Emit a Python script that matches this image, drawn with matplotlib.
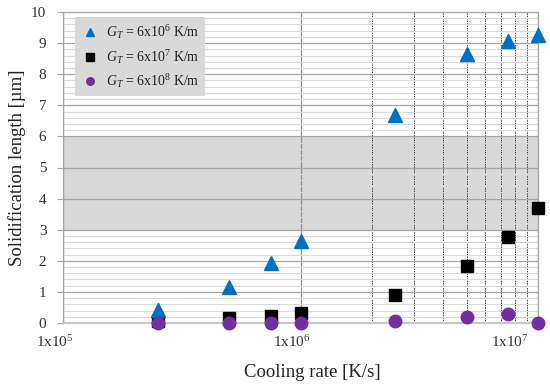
import matplotlib
matplotlib.use('Agg')
import matplotlib.pyplot as plt
import matplotlib.transforms as mtransforms
import numpy as np

plt.rcParams['font.family'] = 'Liberation Serif'
plt.rcParams['mathtext.fontset'] = 'custom'
plt.rcParams['mathtext.rm'] = 'Liberation Serif'
plt.rcParams['mathtext.it'] = 'Liberation Serif:italic'

# data
cooling_rate = [2.5e5, 5e5, 7.5e5, 1e6, 2.5e6, 5e6, 7.5e6, 1e7]
len_g6 = [0.42, 1.17, 1.92, 2.65, 6.69, 8.64, 9.08, 9.26]
len_g7 = [0.08, 0.15, 0.22, 0.31, 0.89, 1.83, 2.78, 3.71]
len_g8 = [0.0, 0.0, 0.0, 0.0, 0.06, 0.18, 0.28, 0.0]
series_labels = [r'$G_T$ = 6x10$^6$ K/m', r'$G_T$ = 6x10$^7$ K/m', r'$G_T$ = 6x10$^8$ K/m']
band_lo, band_hi = 3, 6
x_major = [1e5, 1e6, 1e7]
x_major_labels = [r'1x10$^5$', r'1x10$^6$', r'1x10$^7$']
x_minor = [2e6, 3e6, 4e6, 5e6, 6e6, 7e6, 8e6, 9e6]

fig = plt.figure(figsize=(5.5, 3.86), dpi=100)
fig.patch.set_facecolor('white')
ax = fig.add_axes([63/550, 63/386, 475/550, 311/386])
ax.set_xscale('log')
ax.set_xlim(1e5, 1e7)
ax.set_ylim(0, 10)

# grey band
ax.axhspan(band_lo, band_hi, color='#d9d9d9', zorder=0, lw=0)

# grid
ax.set_yticks(np.arange(0, 11, 1))
ax.set_yticks(np.arange(0, 10.01, 0.2), minor=True)
ax.set_xticks(x_major)
ax.set_xticks(x_minor, minor=True)
ax.set_xticklabels(x_major_labels)
ax.grid(which='major', axis='y', color='#a6a6a6', lw=0.9, zorder=1)
ax.grid(which='minor', axis='y', color='#d9d9d9', lw=0.8, zorder=0.9)
ax.grid(which='major', axis='x', color='#909090', lw=0.9, zorder=1)
ax.grid(which='minor', axis='x', color='#404040', lw=0.7, ls=(0, (1.5, 1)), zorder=1)
ax.set_axisbelow(True)

ax.tick_params(axis='x', which='both', length=0, pad=8, labelsize=11, labelcolor='#333333')
ax.tick_params(axis='y', which='major', length=4, color='#a6a6a6', pad=8,
               labelsize=11, labelcolor='#333333')
ax.tick_params(axis='y', which='minor', length=0)

# shift x tick labels like the original
offsets = [-6, -6, -20]
for lab, dx in zip(ax.get_xticklabels(), offsets):
    lab.set_transform(lab.get_transform() +
                      mtransforms.ScaledTranslation(dx/72, 0, fig.dpi_scale_trans))

for s in ['left', 'top', 'right']:
    ax.spines[s].set_color('#a6a6a6')
    ax.spines[s].set_linewidth(0.9)
ax.spines['bottom'].set_color('#c8c8c8')
ax.spines['bottom'].set_linewidth(1.6)

ax.plot(cooling_rate, len_g6, ls='none', marker='^', ms=10, color='#0070C0',
        label=series_labels[0], clip_on=False, zorder=5)
ax.plot(cooling_rate, len_g7, ls='none', marker='s', ms=8.5, color='black',
        label=series_labels[1], clip_on=False, zorder=4)
ax.plot(cooling_rate, len_g8, ls='none', marker='o', ms=9, color='#7030A0',
        label=series_labels[2], clip_on=False, zorder=6)

leg = ax.legend(loc='upper left', bbox_to_anchor=(12/475, 1 - 5/311), borderaxespad=0,
                frameon=True, fancybox=False, facecolor='#d9d9d9', edgecolor='none',
                framealpha=1, fontsize=10, markerscale=0.6, handlelength=1.4,
                handletextpad=0.45, labelspacing=0.5, borderpad=0.4)
leg.set_zorder(10)
for t in leg.get_texts():
    t.set_color('#222222')

ax.set_ylabel('Solidification length [µm]', fontsize=13.5, color='#222222')
ax.yaxis.set_label_coords(-(63 - 26)/475, 0.5)
ax.set_xlabel('Cooling rate [K/s]', fontsize=13.5, color='#222222')
ax.xaxis.set_label_coords((312 - 63)/475, -(364 - 323)/311)

fig.savefig('out.png', dpi=100, facecolor='white')
